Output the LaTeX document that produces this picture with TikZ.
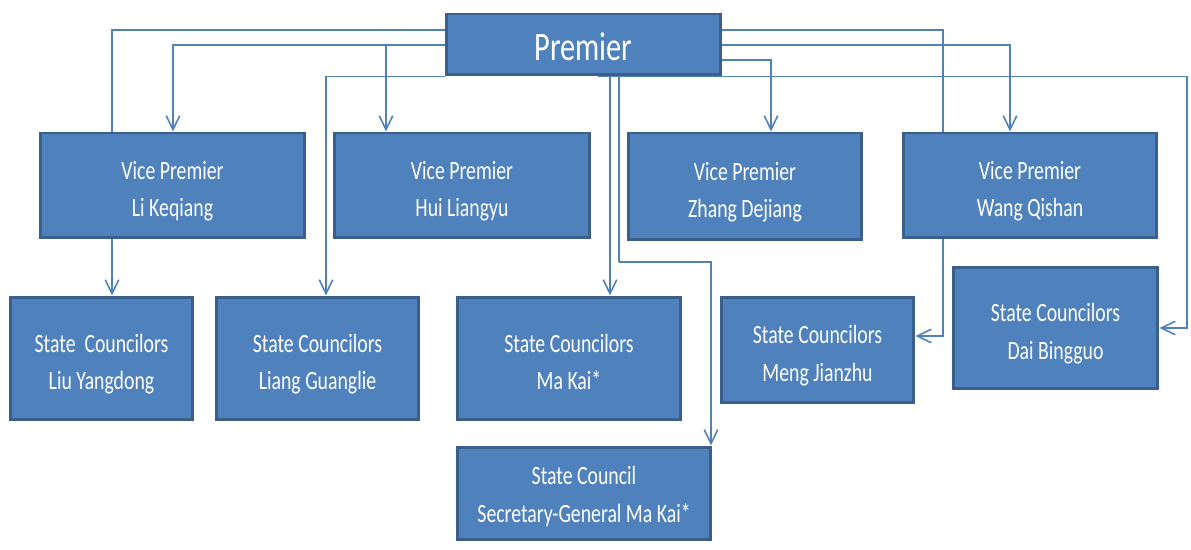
\documentclass[tikz,border=0pt]{standalone}
\usepackage{fontspec}
\setmainfont{Carlito}[FakeStretch=0.75]
\usetikzlibrary{arrows.meta,backgrounds}
\definecolor{boxfill}{HTML}{4F81BD}
\definecolor{boxline}{HTML}{3A5F8B}
% text set a little low in its box
\newcommand{\boxtext}[2][2.8pt]{\raisebox{-#1}[\height][\depth]{\begin{tabular}{@{}c@{}}#2\end{tabular}}}
\tikzset{
  box/.style={draw=boxline, line width=1.7pt, fill=boxfill, text=white,
    inner sep=0pt, font=\fontsize{15}{21.5}\selectfont},
  link/.style={draw=boxfill, line width=0.9pt, -{Straight Barb[length=0.28cm, width=0.27cm]}},
  plain/.style={draw=boxfill, line width=0.9pt}
}
\begin{document}
\begin{tikzpicture}[x=0.02cm, y=-0.02cm]
  \useasboundingbox (0,0) rectangle (1191,550);

  \node [box, minimum width=5.5cm, minimum height=1.22cm, font=\fontsize{23}{26}\selectfont](prem) at (583.5,44.5) {\raisebox{-1.4pt}[\height][\depth]{Premier}};

  % vice premiers
  \node [box, minimum width=5.3cm, minimum height=2.1cm](lik) at (172.5,185.5) {\boxtext{Vice Premier\\Li Keqiang}};
  \node [box, minimum width=5.12cm, minimum height=2.1cm](hui) at (462,185.5) {\boxtext{Vice Premier\\Hui Liangyu}};
  \node [box, minimum width=4.68cm, minimum height=2.14cm](zhang) at (745,186.5) {\boxtext{Vice Premier\\Zhang Dejiang}};
  \node [box, minimum width=5.08cm, minimum height=2.1cm](wang) at (1030,185.5) {\boxtext{Vice Premier\\Wang Qishan}};

  % state councilors
  \node [box, minimum width=3.66cm, minimum height=2.46cm](liu) at (101.5,358.5) {\boxtext{State~ Councilors\\Liu Yangdong}};
  \node [box, minimum width=4.06cm, minimum height=2.46cm](liang) at (317.5,358.5) {\boxtext{State Councilors\\Liang Guanglie}};
  \node [box, minimum width=4.48cm, minimum height=2.46cm](maki) at (569,358.5) {\boxtext{State Councilors\\Ma Kai*}};
  \node [box, minimum width=3.86cm, minimum height=2.12cm](meng) at (817.5,350) {\boxtext{State Councilors\\Meng Jianzhu}};
  \node [box, minimum width=4.1cm, minimum height=2.44cm](dai) at (1055.5,328) {\boxtext{State Councilors\\Dai Bingguo}};
  \node [box, minimum width=5.08cm, minimum height=1.86cm](secg) at (584,493.5) {\boxtext[1.6pt]{State Council\\Secretary-General Ma Kai*}};

  \coordinate (jhui) at (386,45);
  \coordinate (jsec) at (619,262);

  \begin{pgfonlayer}{background}
  % left side
  \draw[link] (prem.west |- 0,30) -| (liu.north -| 112,0);
  \draw[link] (prem.west |- 0,45) -| (lik.north -| 173,0);
  \draw[link] (jhui) -- (hui.north -| jhui);
  \draw[link] (prem.south west) -| (liang.north -| 326,0);

  % right side
  \draw[link] (prem.east |- 0,30) -| (943,336) -- (meng.east |- 0,336);
  \draw[link] (prem.east |- 0,45) -| (wang.north -| 1010,0);
  \draw[link] (prem.east |- 0,60) -| (zhang.north -| 771,0);
  \draw[link] (prem.south -| 598,0) -| (1187,328) -- (dai.east);

  % down the middle
  \draw[link] (prem.south -| 610,0) -- (maki.north -| 610,0);
  \draw[plain] (prem.south -| 619,0) -- (jsec);
  \draw[link] (jsec) -| (secg.north -| 711,0);
  \end{pgfonlayer}
\end{tikzpicture}
\end{document}
